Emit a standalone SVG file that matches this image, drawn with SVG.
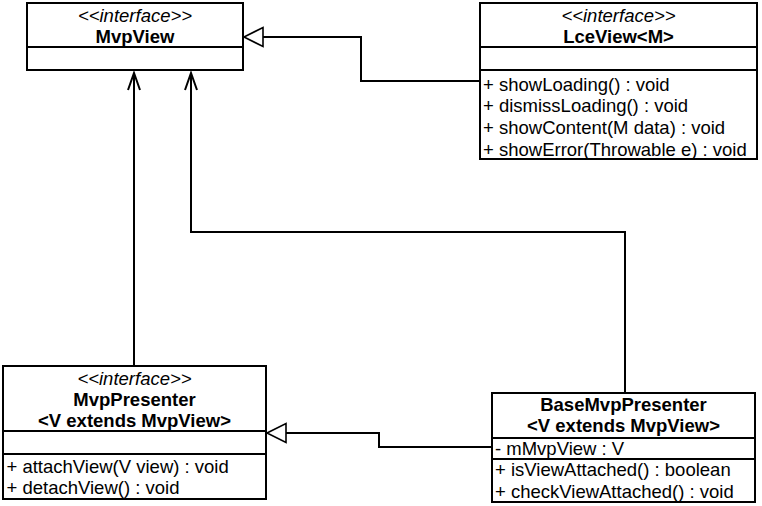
<svg xmlns="http://www.w3.org/2000/svg" width="762" height="506" viewBox="0 0 762 506">
<style>
.box{fill:#fff;stroke:#000;stroke-width:2}
.div{stroke:#000;stroke-width:2}
text{font-family:"Liberation Sans",Arial,sans-serif;font-size:18.5px;fill:#000}
.st{font-style:italic;text-anchor:middle}
.nm{font-weight:bold;text-anchor:middle}
.edge{fill:none;stroke:#000;stroke-width:2}
.tri{fill:#fff;stroke:#000;stroke-width:1.6}
.open{fill:none;stroke:#000;stroke-width:2}
</style>
<rect width="762" height="506" fill="#fff"/>
<g id="connectors">
  <path class="edge" d="M480,81 H361 V37 H263"/>
  <polygon class="tri" points="244,37 263,27.5 263,46.5"/>
  <path class="edge" d="M492,447 H379 V433 H286"/>
  <polygon class="tri" points="267,433 286,423.5 286,442.5"/>
  <path class="edge" d="M134,366 V73"/>
  <path class="open" d="M128,90 L134,73 L140,90"/>
  <path class="edge" d="M625,393 V232 H191 V73"/>
  <path class="open" d="M185,90 L191,73 L197,90"/>
</g>
<g id="MvpView">
  <rect class="box" x="27" y="3" width="216" height="67"/>
  <line class="div" x1="27" y1="47" x2="243" y2="47"/>
  <text class="st" x="135" y="22">&lt;&lt;interface&gt;&gt;</text>
  <text class="nm" x="135" y="43">MvpView</text>
</g>
<g id="LceView">
  <rect class="box" x="480" y="3" width="277" height="156"/>
  <line class="div" x1="480" y1="47" x2="757" y2="47"/>
  <line class="div" x1="480" y1="70" x2="757" y2="70"/>
  <text class="st" x="618.5" y="22">&lt;&lt;interface&gt;&gt;</text>
  <text class="nm" x="618.5" y="43">LceView&lt;M&gt;</text>
  <text x="483" y="90.5">+ showLoading() : void</text>
  <text x="483" y="112.2">+ dismissLoading() : void</text>
  <text x="483" y="133.9">+ showContent(M data) : void</text>
  <text x="483" y="155.6">+ showError(Throwable e) : void</text>
</g>
<g id="MvpPresenter">
  <rect class="box" x="3" y="366" width="263" height="133"/>
  <line class="div" x1="3" y1="431" x2="266" y2="431"/>
  <line class="div" x1="3" y1="454" x2="266" y2="454"/>
  <text class="st" x="134.5" y="385">&lt;&lt;interface&gt;&gt;</text>
  <text class="nm" x="134.5" y="406">MvpPresenter</text>
  <text class="nm" x="134.5" y="427">&lt;V extends MvpView&gt;</text>
  <text x="6.5" y="473">+ attachView(V view) : void</text>
  <text x="6.5" y="494">+ detachView() : void</text>
</g>
<g id="BaseMvpPresenter">
  <rect class="box" x="492" y="393" width="263" height="109"/>
  <line class="div" x1="492" y1="438" x2="755" y2="438"/>
  <line class="div" x1="492" y1="459" x2="755" y2="459"/>
  <text class="nm" x="623.5" y="411">BaseMvpPresenter</text>
  <text class="nm" x="623.5" y="432">&lt;V extends MvpView&gt;</text>
  <text x="495" y="455">- mMvpView : V</text>
  <text x="495" y="476">+ isViewAttached() : boolean</text>
  <text x="495" y="497.5">+ checkViewAttached() : void</text>
</g>
</svg>
